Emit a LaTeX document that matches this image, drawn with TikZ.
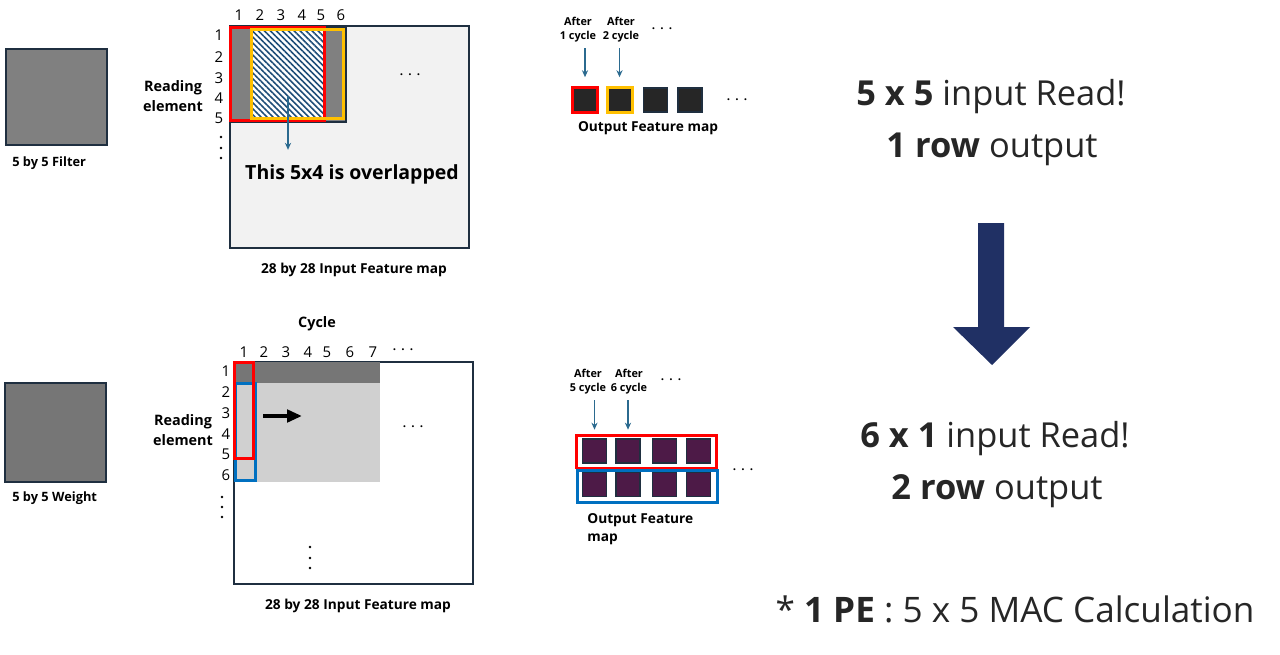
\documentclass[tikz,border=0pt]{standalone}
\usepackage{fontspec}
\setmainfont{Open Sans}
\usetikzlibrary{arrows.meta,patterns.meta}

\definecolor{navyline}{HTML}{1F2F40}
\definecolor{filtgray}{HTML}{808080}
\definecolor{wgtgray}{HTML}{767676}
\definecolor{mapgray}{HTML}{F2F2F2}
\definecolor{litgray}{HTML}{D0D0D0}
\definecolor{hatchblue}{HTML}{1F4E79}
\definecolor{boxorange}{HTML}{FFC000}
\definecolor{boxblue}{HTML}{0070C0}
\definecolor{arrblue}{HTML}{2B6A8F}
\definecolor{sqdark}{HTML}{262626}
\definecolor{sqpurple}{HTML}{4D1A47}
\definecolor{bignavy}{HTML}{203064}
\definecolor{txtdark}{HTML}{262626}

\tikzset{
  num/.style={font=\fontsize{8.5}{9}\selectfont, inner sep=0pt},
  lbl/.style={font=\fontsize{8.2}{11.3}\selectfont\bfseries, align=center, inner sep=0pt},
  maplbl/.style={font=\fontsize{7.8}{10.2}\selectfont\bfseries, inner sep=0pt},
  smlbl/.style={font=\fontsize{7.3}{8}\selectfont\bfseries, inner sep=0pt},
  aftlbl/.style={font=\fontsize{6.2}{8}\selectfont\bfseries, align=center, inner sep=0pt},
  hdots/.style={font=\fontsize{11}{11}\selectfont, inner sep=0pt},
  dotmark/.style={fill=black},
  bigtxt/.style={font=\fontsize{19.6}{22}\selectfont, text=txtdark, anchor=base, inner sep=0pt},
  mapline/.style={draw=navyline, line width=0.6pt},
  redbox/.style={draw=red, line width=1.7pt},
  orgbox/.style={draw=boxorange, line width=1.7pt},
  bluebox/.style={draw=boxblue, line width=1.7pt},
  wsq/.style={draw=navyline, line width=0.6pt},
  osq/.style={fill=sqdark, draw=navyline, line width=0.6pt, minimum size=0.48cm, inner sep=0pt},
  psq/.style={fill=sqpurple, draw=navyline, line width=0.6pt, minimum size=0.48cm, inner sep=0pt},
  bluearr/.style={draw=arrblue, line width=0.7pt, -{Stealth[length=4pt, width=3.5pt]}},
}

\begin{document}
\begin{tikzpicture}[x=0.02cm, y=-0.02cm]
    \useasboundingbox (0,0) rectangle (1280,655);

    % Filter
    \node[wsq, fill=filtgray, minimum width=2.02cm, minimum height=1.92cm] (filt) at (56.5,97) {};
    \node[smlbl, anchor=west] (filtlbl) at (12,163) {5 by 5 Filter};

    % Input feature map (top)
    \draw[mapline, fill=mapgray] (230,26) rectangle (469,248);
    \fill[filtgray] (231,28) rectangle (346,122);
    \fill[white] (250,28) rectangle (323,119);
    \fill[pattern={Lines[angle=-45, distance=2.4pt, line width=0.9pt]}, pattern color=hatchblue] (250,28) rectangle (323,119);
    \draw[mapline] (231,27) rectangle (346,122);
    \draw[redbox] (230.5,27.5) rectangle (324.5,120.5);
    \draw[orgbox] (251.5,29.5) rectangle (343.5,118.5);

    \foreach \n/\x in {1/239,2/260,3/281,4/302,5/321,6/341}
        \node[num] (tc\n) at (\x,15) {\n};
    \foreach \n/\y in {1/35,2/57,3/78,4/98,5/118}
        \node[num] (tr\n) at (219,\y) {\n};
    \foreach \y in {137,148,158}
        \fill[dotmark] (221,\y) circle[radius=0.8pt];
    \node[lbl] (tread) at (173,96) {Reading\\element};
    \node[hdots] (tdots) at (410,75) {$\cdots$};

    \coordinate (hatch) at (288,96);
    \node[font=\fontsize{11.1}{12}\selectfont\bfseries, inner sep=0pt] (ovl) at (352,174) {This 5x4 is overlapped};
    \draw[bluearr] (hatch) -- (hatch |- ovl.north) [shorten >=8pt];
    \node[maplbl] (tmap) at (354,270) {28 by 28 Input Feature map};

    % Output feature map (top)
    \node[osq, redbox, minimum size=0.5cm] (o1) at (585,100) {};
    \node[osq, orgbox, minimum size=0.5cm] (o2) at (619.5,100) {};
    \node[osq] (o3) at (655.5,100) {};
    \node[osq] (o4) at (690,100) {};
    \node[hdots] (odots) at (737,100) {$\cdots$};

    \node[aftlbl] (a1) at (578,30) {After\\1 cycle};
    \node[aftlbl] (a2) at (621,30) {After\\2 cycle};
    \node[hdots] (adots) at (662,29) {$\cdots$};
    \draw[bluearr, shorten <=3pt, shorten >=5pt] (o1 |- a1.south) -- (o1.north);
    \draw[bluearr, shorten <=3pt, shorten >=5pt] (o2 |- a2.south) -- (o2.north);
    \node[maplbl] (ofm) at (648,128) {Output Feature map};

    % Weight
    \node[wsq, fill=wgtgray, minimum width=2.02cm, minimum height=1.98cm] (wgt) at (55.5,432.5) {};
    \node[smlbl, anchor=west] (wgtlbl) at (12,498) {5 by 5 Weight};

    % Input feature map (bottom)
    \draw[mapline, fill=white] (234,362) rectangle (473,584);
    \fill[wgtgray] (234,362) rectangle (380,383);
    \fill[litgray] (234,383) rectangle (380,482);
    \draw[bluebox] (235.5,383.5) rectangle (255.5,480.5);
    \draw[redbox] (234.5,362.5) rectangle (253.5,458.5);

    \coordinate (mvs) at (263,416);
    \coordinate (mve) at (302,416);
    \draw[line width=2.8pt, -{Triangle[length=8.5pt, width=7pt]}] (mvs) -- (mve);

    \node[lbl] (cyc) at (317,324) {Cycle};
    \foreach \n/\x in {1/244,2/264,3/286,4/308,5/327,6/350,7/373}
        \node[num] (bc\n) at (\x,352) {\n};
    \node[hdots] (bcdots) at (403,350) {$\cdots$};
    \foreach \n/\y in {1/371,2/392,3/413,4/434,5/454,6/475}
        \node[num] (br\n) at (226,\y) {\n};
    \foreach \y in {497,507,517}
        \fill[dotmark] (222,\y) circle[radius=0.8pt];
    \node[lbl] (bread) at (183,430) {Reading\\element};
    \node[hdots] (bdots) at (413,427) {$\cdots$};
    \foreach \y in {547,558,568}
        \fill[dotmark] (310,\y) circle[radius=0.8pt];
    \node[maplbl] (bmap) at (358,606) {28 by 28 Input Feature map};

    % Output feature map (bottom)
    \draw[redbox] (576.5,435.5) rectangle (716.5,468);
    \draw[bluebox] (577.5,470.5) rectangle (717.5,502.5);
    \foreach \i/\x in {1/594.5,2/628,3/664.5,4/698.5} {
        \node[psq] (p1\i) at (\x,451) {};
        \node[psq] (p2\i) at (\x,484.5) {};
    }
    \node[hdots] (pdots) at (743,470) {$\cdots$};

    \node[aftlbl] (a5) at (588,382) {After\\5 cycle};
    \node[aftlbl] (a6) at (629,382) {After\\6 cycle};
    \node[hdots] (a6dots) at (671,380) {$\cdots$};
    \draw[bluearr, shorten <=3pt, shorten >=5pt] (p11 |- a5.south) -- (p11.north);
    \draw[bluearr, shorten <=3pt, shorten >=5pt] (p12 |- a6.south) -- (p12.north);
    \node[maplbl, align=left, anchor=west] (pfm) at (587,529) {Output Feature\\map};

    % Summary text
    \node[bigtxt] (r1) at (991,106) {\textbf{5 x 5} input Read!};
    \node[bigtxt] (r2) at (992,158) {\textbf{1 row} output};
    \fill[bignavy] (978,223) -- (1004,223) -- (1004,327) -- (1030,327) -- (992,365) -- (953,327) -- (978,327) -- cycle;
    \node[bigtxt] (r3) at (995,447) {\textbf{6 x 1} input Read!};
    \node[bigtxt] (r4) at (997,499) {\textbf{2 row} output};
    \node[bigtxt, font=\fontsize{20}{24}\selectfont] (pe) at (1015,622) {* \textbf{1 PE} : 5 x 5 MAC Calculation};
\end{tikzpicture}
\end{document}
